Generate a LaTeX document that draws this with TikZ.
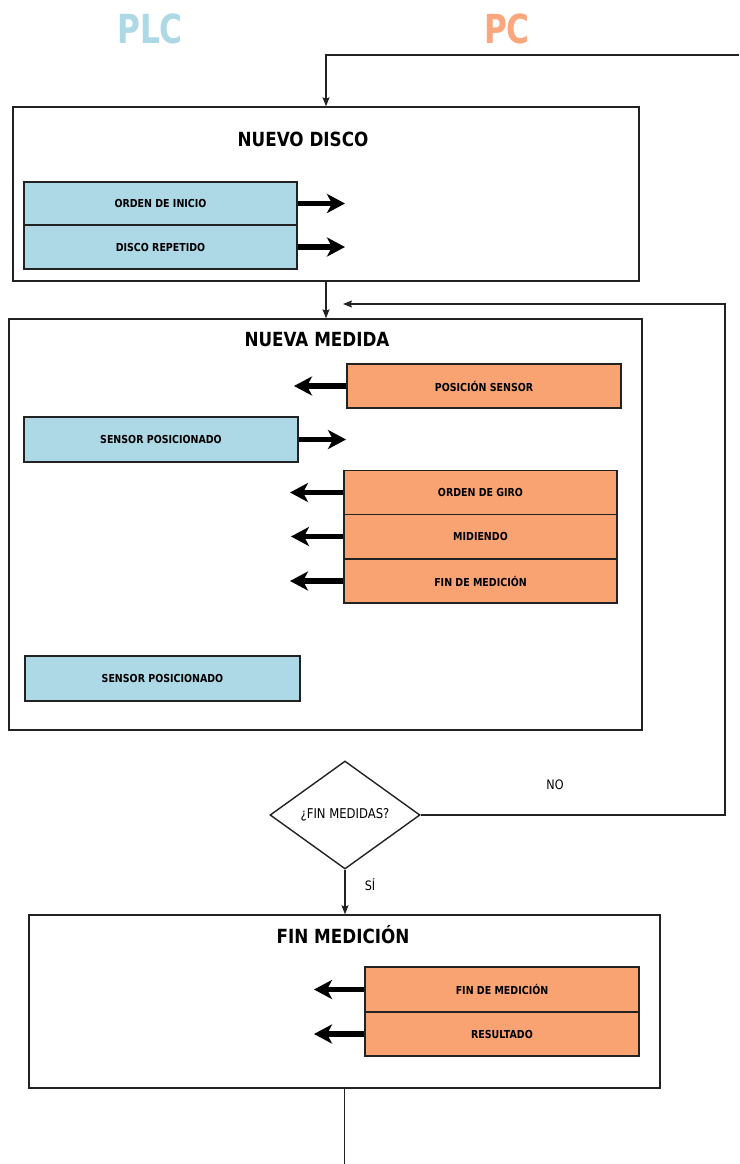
\documentclass[tikz,border=0pt]{standalone}
\usepackage{fontspec}
\setmainfont{DejaVu Sans}[FakeStretch=0.86]
\newfontfamily\bigf{DejaVu Sans}[FakeStretch=0.78]
\usetikzlibrary{arrows.meta,shapes.geometric}
\definecolor{plcblue}{HTML}{ADD8E6}
\definecolor{pcorange}{HTML}{F9A373}
\definecolor{plctext}{HTML}{ADD8E6}
\definecolor{pctext}{HTML}{FBA77D}
\definecolor{edge}{HTML}{222222}
\tikzset{
  stage/.style={draw=edge, line width=1.4pt, fill=white, inner sep=0pt},
  sig/.style={draw=edge, line width=1.8pt, inner sep=0pt, font=\bfseries\fontsize{11}{13}\selectfont},
  plcsig/.style={sig, fill=plcblue},
  pcsig/.style={sig, fill=pcorange},
  title/.style={font=\bfseries\fontsize{19.5}{22}\selectfont},
  lane/.style={font=\bigf\bfseries\fontsize{40}{44}\selectfont},
  msg/.style={line width=5.5pt, -{Stealth[length=18pt,width=19pt,inset=5pt]}},
  flow/.style={draw=edge, line width=1.2pt, -{Stealth[length=9pt,width=7pt,inset=1.5pt]}},
  plain/.style={draw=edge, line width=1.2pt},
  lbl/.style={font=\fontsize{13}{15}\selectfont},
  decision/.style={diamond, draw=edge, line width=1.4pt, inner sep=0pt, shape aspect=1.39,
    minimum width=150pt, minimum height=108pt, font=\fontsize{13.5}{15}\selectfont}
}
\begin{document}
\begin{tikzpicture}[x=1pt,y=-1pt]
\useasboundingbox (0,0) rectangle (739,1164);
% lane headings
\node[lane, text=plctext] (plc) at (150,29) {PLC};
\node[lane, text=pctext] (pc) at (507,29) {PC};

% NUEVO DISCO
\node[stage, minimum width=626pt, minimum height=174pt] (nd) at (326,194) {};
\node[title] (ndt) at (303,139) {NUEVO DISCO};
\node[plcsig, minimum width=273pt, minimum height=43pt] (oi) at (160.5,203.5) {ORDEN DE INICIO};
\node[plcsig, minimum width=273pt, minimum height=44pt] (dr) at (160.5,247) {DISCO REPETIDO};
\coordinate (oiT) at (345,203.5);
\coordinate (drT) at (345,247);
\draw[msg] (oi.east) -- (oiT);
\draw[msg] (dr.east) -- (drT);

% NUEVA MEDIDA
\node[stage, minimum width=633pt, minimum height=411pt] (nm) at (325.5,524.5) {};
\node[title] (nmt) at (317,340) {NUEVA MEDIDA};
\node[pcsig, minimum width=274pt, minimum height=44pt] (ps) at (484,386) {POSICIÓN SENSOR};
\node[plcsig, minimum width=274pt, minimum height=45pt] (sp) at (161,439.5) {SENSOR POSICIONADO};
\node[pcsig, minimum width=273pt, minimum height=44pt] (og) at (480.5,492.5) {ORDEN DE GIRO};
\node[pcsig, minimum width=273pt, minimum height=44pt] (mi) at (480.5,536.5) {MIDIENDO};
\node[pcsig, minimum width=273pt, minimum height=44pt] (fdm) at (480.5,581) {FIN DE MEDICIÓN};
\node[plcsig, minimum width=275pt, minimum height=45pt] (sp2) at (162.5,678.5) {SENSOR POSICIONADO};
\coordinate (psT) at (294,386);
\coordinate (spT) at (346,439.5);
\coordinate (ogT) at (290,492.5);
\coordinate (miT) at (291,536.5);
\coordinate (fdmT) at (290,581);
\draw[msg] (ps.west) -- (psT);
\draw[msg] (sp.east) -- (spT);
\draw[msg] (og.west) -- (ogT);
\draw[msg] (mi.west) -- (miT);
\draw[msg] (fdm.west) -- (fdmT);

% decision
\node[decision] (dec) at (345,815) {¿FIN MEDIDAS?};
\node[lbl] (no) at (555,785) {NO};
\node[lbl] (si) at (370,885) {SÍ};

% FIN MEDICION
\node[stage, minimum width=631pt, minimum height=173pt] (fm) at (344.5,1001.5) {};
\node[title] (fmt) at (343,935) {FIN MEDICIÓN};
\node[pcsig, minimum width=274pt, minimum height=45pt] (fdm2) at (502,989.5) {FIN DE MEDICIÓN};
\node[pcsig, minimum width=274pt, minimum height=44pt] (res) at (502,1034) {RESULTADO};
\coordinate (fdm2T) at (314,989.5);
\coordinate (resT) at (314,1034);
\draw[msg] (fdm2.west) -- (fdm2T);
\draw[msg] (res.west) -- (resT);

% flow connectors
\coordinate (topin) at (739,55);
\draw[flow] (topin) -| (nd.north);
\draw[flow] (nd.south) -- (nd.south |- nm.north);
\coordinate (loopc) at (725,304);
\coordinate (loopend) at (343,304);
\draw[flow] (dec.east) -| (loopc) -- (loopend);
\draw[flow] (dec.south) -- (dec.south |- fm.north);
\coordinate (botout) at (344.5,1164);
\draw[plain] (fm.south) -- (botout);
\end{tikzpicture}
\end{document}
